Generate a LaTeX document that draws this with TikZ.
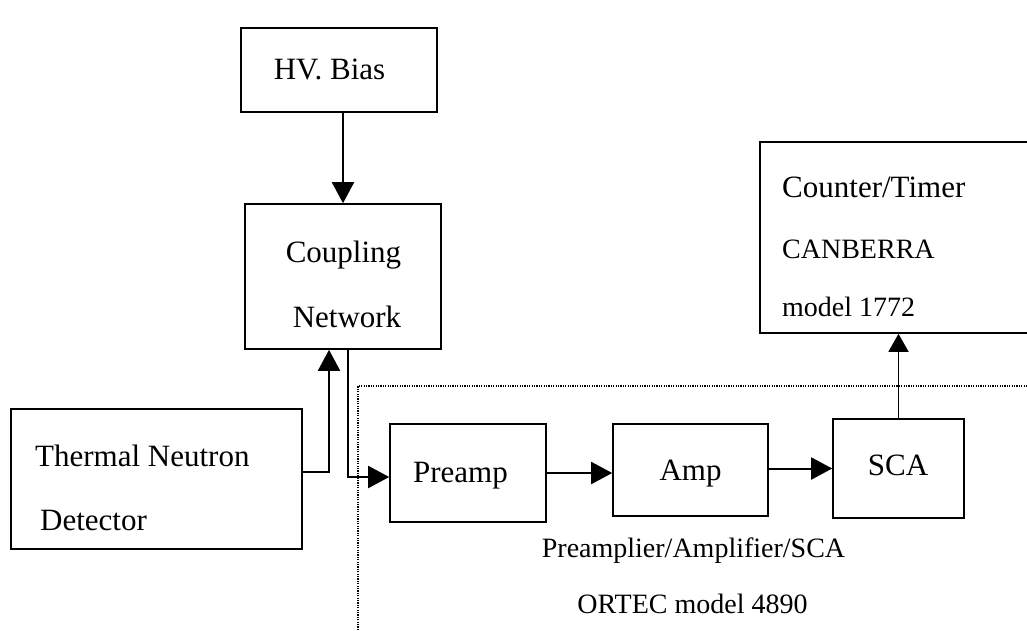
\documentclass[tikz,border=0pt]{standalone}
\usepackage{fontspec}
\setmainfont{Liberation Serif}
\usetikzlibrary{arrows.meta}
\tikzset{
  box/.style={draw, line width=1.6pt, inner sep=0pt, rectangle},
  big/.style={inner sep=0pt, font=\fontsize{31}{36}\selectfont},
  small/.style={inner sep=0pt, font=\fontsize{28}{34}\selectfont},
  arr/.style={line width=2pt, -{Triangle[length=21pt,width=22pt]}},
  thinarr/.style={line width=1.4pt, -{Triangle[length=18pt,width=20pt]}},
  frame/.style={line width=1.3pt, dash pattern=on 1.2pt off 1.2pt}
}
\begin{document}
\begin{tikzpicture}[x=1pt,y=-1pt]
\useasboundingbox (0,0) rectangle (1027,630);
\fill[white] (0,0) rectangle (1027,630);

% boxes
\node[box, minimum width=196pt, minimum height=84pt] (hv) at (339,70) {};
\node[box, minimum width=196pt, minimum height=145pt] (cn) at (343,276.5) {};
\node[box, minimum width=291pt, minimum height=140pt] (det) at (156.5,479) {};
\node[box, minimum width=156pt, minimum height=98pt] (pre) at (468,473) {};
\node[box, minimum width=155pt, minimum height=92pt] (amp) at (690.5,470) {};
\node[box, minimum width=131pt, minimum height=99pt] (sca) at (898.5,468.5) {};
\node[box, minimum width=270pt, minimum height=191pt] (ctr) at (895,237.5) {};

% texts
\node[big, anchor=base] (thv) at (329.5,79) {HV. Bias};
\node[big, anchor=base] (tcn1) at (343.5,262) {Coupling};
\node[big, anchor=base] (tcn2) at (347,327) {Network};
\node[big, anchor=base west] (tdet1) at (35,466) {Thermal Neutron};
\node[big, anchor=base west] (tdet2) at (40,530) {Detector};
\node[big, anchor=base] (tpre) at (460.5,482) {Preamp};
\node[big, anchor=base] (tamp) at (690.5,480) {Amp};
\node[big, anchor=base] (tsca) at (898,475) {SCA};
\node[big, anchor=base west] (tctr1) at (782,197) {Counter/Timer};
\node[small, anchor=base west] (tctr2) at (782,258) {CANBERRA};
\node[small, anchor=base west] (tctr3) at (782,316) {model 1772};
\node[small, anchor=base] (lab1) at (693.5,557) {Preamplier/Amplifier/SCA};
\node[small, anchor=base] (lab2) at (692.5,613) {ORTEC model 4890};

% dotted frame
\coordinate (f1) at (358,630);
\coordinate (f2) at (358,386);
\coordinate (f3) at (1027,386);
\draw[frame] (f1) -- (f2) -- (f3);

% connectors
\draw[arr] (cn.north |- hv.south) -- (cn.north);
\coordinate (j1) at (329,472);
\draw[arr] (det.east |- j1) -- (j1) -- (j1 |- cn.south);
\coordinate (j2) at (348,477);
\draw[arr] (j2 |- cn.south) -- (j2) -- (j2 -| pre.west);
\draw[arr] (pre.east) -- (pre.east -| amp.west);
\draw[arr] (amp.east |- sca.west) -- (sca.west);
\draw[thinarr] (sca.north) -- (sca.north |- ctr.south);
\end{tikzpicture}
\end{document}
